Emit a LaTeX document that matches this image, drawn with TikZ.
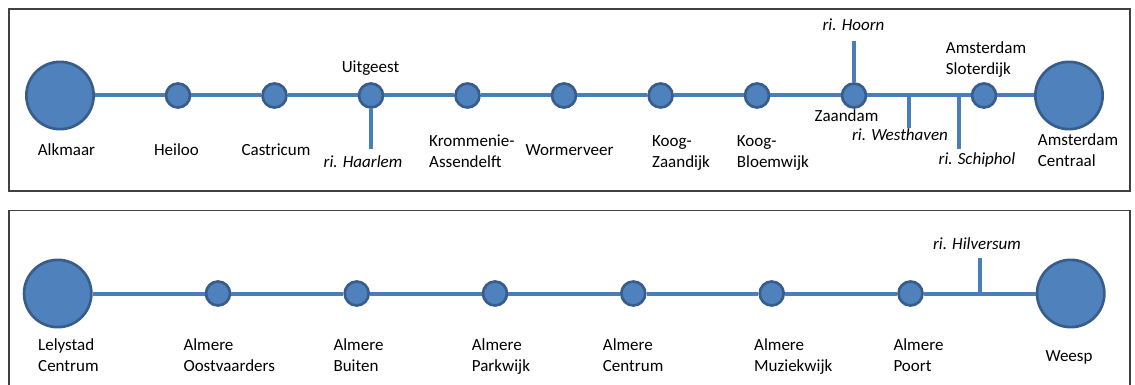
\documentclass[tikz,border=0pt]{standalone}
\usepackage{fontspec}
\setmainfont{Carlito}
\definecolor{stfill}{HTML}{4F81BD}
\definecolor{stdraw}{HTML}{385D8A}
\definecolor{ln}{HTML}{4A7EBB}
\definecolor{frm}{HTML}{404040}
\begin{document}
\begin{tikzpicture}[x=1pt,y=-1pt,
  stn/.style={circle,fill=stfill,draw=stdraw,line width=2.67pt,minimum size=24pt,inner sep=0pt},
  term/.style={stn,minimum size=67.3pt},
  track/.style={draw=ln,line width=4pt},
  lbl/.style={font=\fontsize{17}{20.8}\selectfont,inner sep=0pt,anchor=base},
  lblw/.style={lbl,anchor=base west,align=left},
  dirl/.style={lbl,font=\fontsize{17}{20.8}\selectfont\itshape},
  panelframe/.style={draw=frm,line width=1.3pt}]
\useasboundingbox (0,0) rectangle (1135,385);

% frames
\draw[panelframe] (9,9) rectangle (1130,191);
\draw[panelframe] (9,386) -- (9,210.5) -- (1130,210.5) -- (1130,386);

% ---------- top line ----------
\node[term] (alk) at (60,95.5) {};
\node[stn] (hei) at (178,95.5) {};
\node[stn] (cas) at (274.5,95.5) {};
\node[stn] (uit) at (371,95.5) {};
\node[stn] (kro) at (467.5,95.5) {};
\node[stn] (wor) at (564,95.5) {};
\node[stn] (kzd) at (660.6,95.5) {};
\node[stn] (kbw) at (757,95.5) {};
\node[stn] (zaa) at (854,95.5) {};
\node[stn] (slo) at (984,95.5) {};
\node[term] (ams) at (1069,95.5) {};
\draw[track] (alk) -- (hei) -- (cas) -- (uit) -- (kro) -- (wor) -- (kzd) -- (kbw) -- (zaa) -- (slo) -- (ams);

\coordinate (haa) at (371,149);
\coordinate (hoo) at (854,41);
\coordinate (wh1) at (909,95.5);
\coordinate (wh2) at (909,128);
\coordinate (sc1) at (959,95.5);
\coordinate (sc2) at (959,149);
\draw[track] (uit) -- (haa);
\draw[track] (hoo) -- (zaa);
\draw[track] (wh1) -- (wh2);
\draw[track] (sc1) -- (sc2);

\node[lbl] (t-alk) at (66.5,156) {Alkmaar};
\node[lbl] (t-hei) at (176.5,156) {Heiloo};
\node[lbl] (t-cas) at (276,156) {Castricum};
\node[lbl] (t-uit) at (370.5,73) {Uitgeest};
\node[dirl] (t-haa) at (363,167.5) {ri. Haarlem};
\node[lblw] (t-kro) at (429,167.5) {Krommenie-\\Assendelft};
\node[lbl] (t-wor) at (569.5,156) {Wormerveer};
\node[lblw] (t-kzd) at (652,167.5) {Koog-\\Zaandijk};
\node[lblw] (t-kbw) at (736.7,167.5) {Koog-\\Bloemwijk};
\node[lbl] (t-zaa) at (846.5,122) {Zaandam};
\node[dirl] (t-hoo) at (853.5,31) {ri. Hoorn};
\node[dirl] (t-wh) at (900,141) {ri. Westhaven};
\node[dirl] (t-sc) at (977,164.5) {ri. Schiphol};
\node[lblw] (t-slo) at (945.7,74.5) {Amsterdam\\Sloterdijk};
\node[lblw] (t-ams) at (1037.7,166.7) {Amsterdam\\Centraal};

% ---------- bottom line ----------
\node[term] (lel) at (57.7,293.5) {};
\node[stn] (oos) at (218,293.5) {};
\node[stn] (bui) at (356.7,293.5) {};
\node[stn] (par) at (495,293.5) {};
\node[stn] (cen) at (633.3,293.5) {};
\node[stn] (muz) at (771.7,293.5) {};
\node[stn] (poo) at (910.5,293.5) {};
\node[term] (wee) at (1070.7,293.5) {};
\draw[track] (lel) -- (oos) -- (bui) -- (par) -- (cen) -- (muz) -- (poo) -- (wee);
\coordinate (hv1) at (980,293.5);
\coordinate (hv2) at (980,258.3);
\draw[track] (hv1) -- (hv2);

\node[lblw] (b-lel) at (38,371.7) {Lelystad\\Centrum};
\node[lblw] (b-oos) at (183.3,371.7) {Almere\\Oostvaarders};
\node[lblw] (b-bui) at (333.3,371.7) {Almere\\Buiten};
\node[lblw] (b-par) at (471.7,371.7) {Almere\\Parkwijk};
\node[lblw] (b-cen) at (602.7,371.7) {Almere\\Centrum};
\node[lblw] (b-muz) at (754,371.7) {Almere\\Muziekwijk};
\node[lblw] (b-poo) at (893.3,371.7) {Almere\\Poort};
\node[lbl] (b-wee) at (1069,361.5) {Weesp};
\node[dirl] (b-hv) at (977,249) {ri. Hilversum};
\end{tikzpicture}
\end{document}
